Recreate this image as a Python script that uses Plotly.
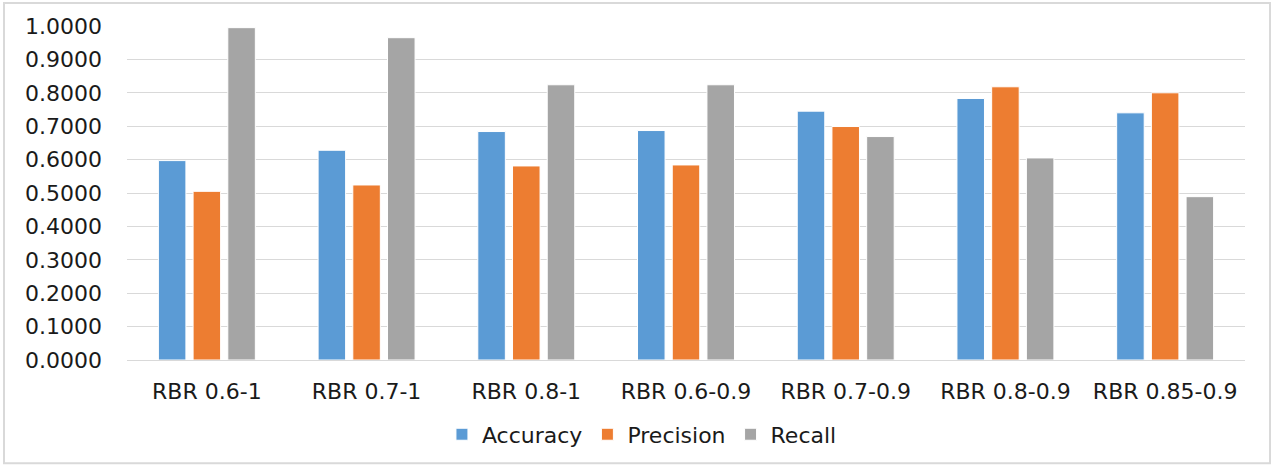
import plotly.graph_objects as go

categories = ["RBR 0.6-1", "RBR 0.7-1", "RBR 0.8-1", "RBR 0.6-0.9",
              "RBR 0.7-0.9", "RBR 0.8-0.9", "RBR 0.85-0.9"]
accuracy = [0.597, 0.628, 0.684, 0.687, 0.745, 0.783, 0.740]
precision = [0.505, 0.524, 0.581, 0.584, 0.699, 0.818, 0.800]
recall = [0.995, 0.965, 0.824, 0.824, 0.669, 0.605, 0.489]
y_ticks = [0.0, 0.1, 0.2, 0.3, 0.4, 0.5, 0.6, 0.7, 0.8, 0.9, 1.0]

series = [
    ("Accuracy", accuracy, "#5B9BD5"),
    ("Precision", precision, "#ED7D31"),
    ("Recall", recall, "#A5A5A5"),
]

fig = go.Figure()
for name, vals, color in series:
    fig.add_trace(go.Bar(
        x=categories, y=vals, name=name,
        marker=dict(color=color, line=dict(color="white", width=1)),
    ))

font_family = "DejaVu Sans"
text_color = "#1a1a1a"

fig.update_layout(
    width=1271, height=467,
    margin=dict(l=127, r=26, t=26, b=105),
    paper_bgcolor="white", plot_bgcolor="white",
    barmode="group", bargap=0.348, bargroupgap=0.207,
    font=dict(family=font_family, color=text_color, size=22),
    showlegend=True,
    legend=dict(orientation="h", x=0.4606, xanchor="center", y=-0.16, yanchor="top",
                font=dict(size=22, family=font_family, color=text_color),
                itemwidth=30, traceorder="normal"),
    xaxis=dict(showgrid=False, showline=True, linecolor="#D9D9D9", linewidth=1,
               ticks="", tickfont=dict(size=22), ticklabelstandoff=12),
    yaxis=dict(range=[0, 1.0], tickvals=y_ticks, tickformat=".4f",
               showgrid=True, gridcolor="#D9D9D9", gridwidth=1,
               zeroline=False, showline=False, ticks="",
               tickfont=dict(size=22), ticklabelstandoff=24),
    shapes=[dict(type="rect", xref="paper", yref="paper",
                 x0=-0.110, x1=1.0224, y0=-0.3095, y1=1.0685,
                 line=dict(color="#D9D9D9", width=2), fillcolor="rgba(0,0,0,0)",
                 layer="below")],
)

fig.write_html("out.html")
